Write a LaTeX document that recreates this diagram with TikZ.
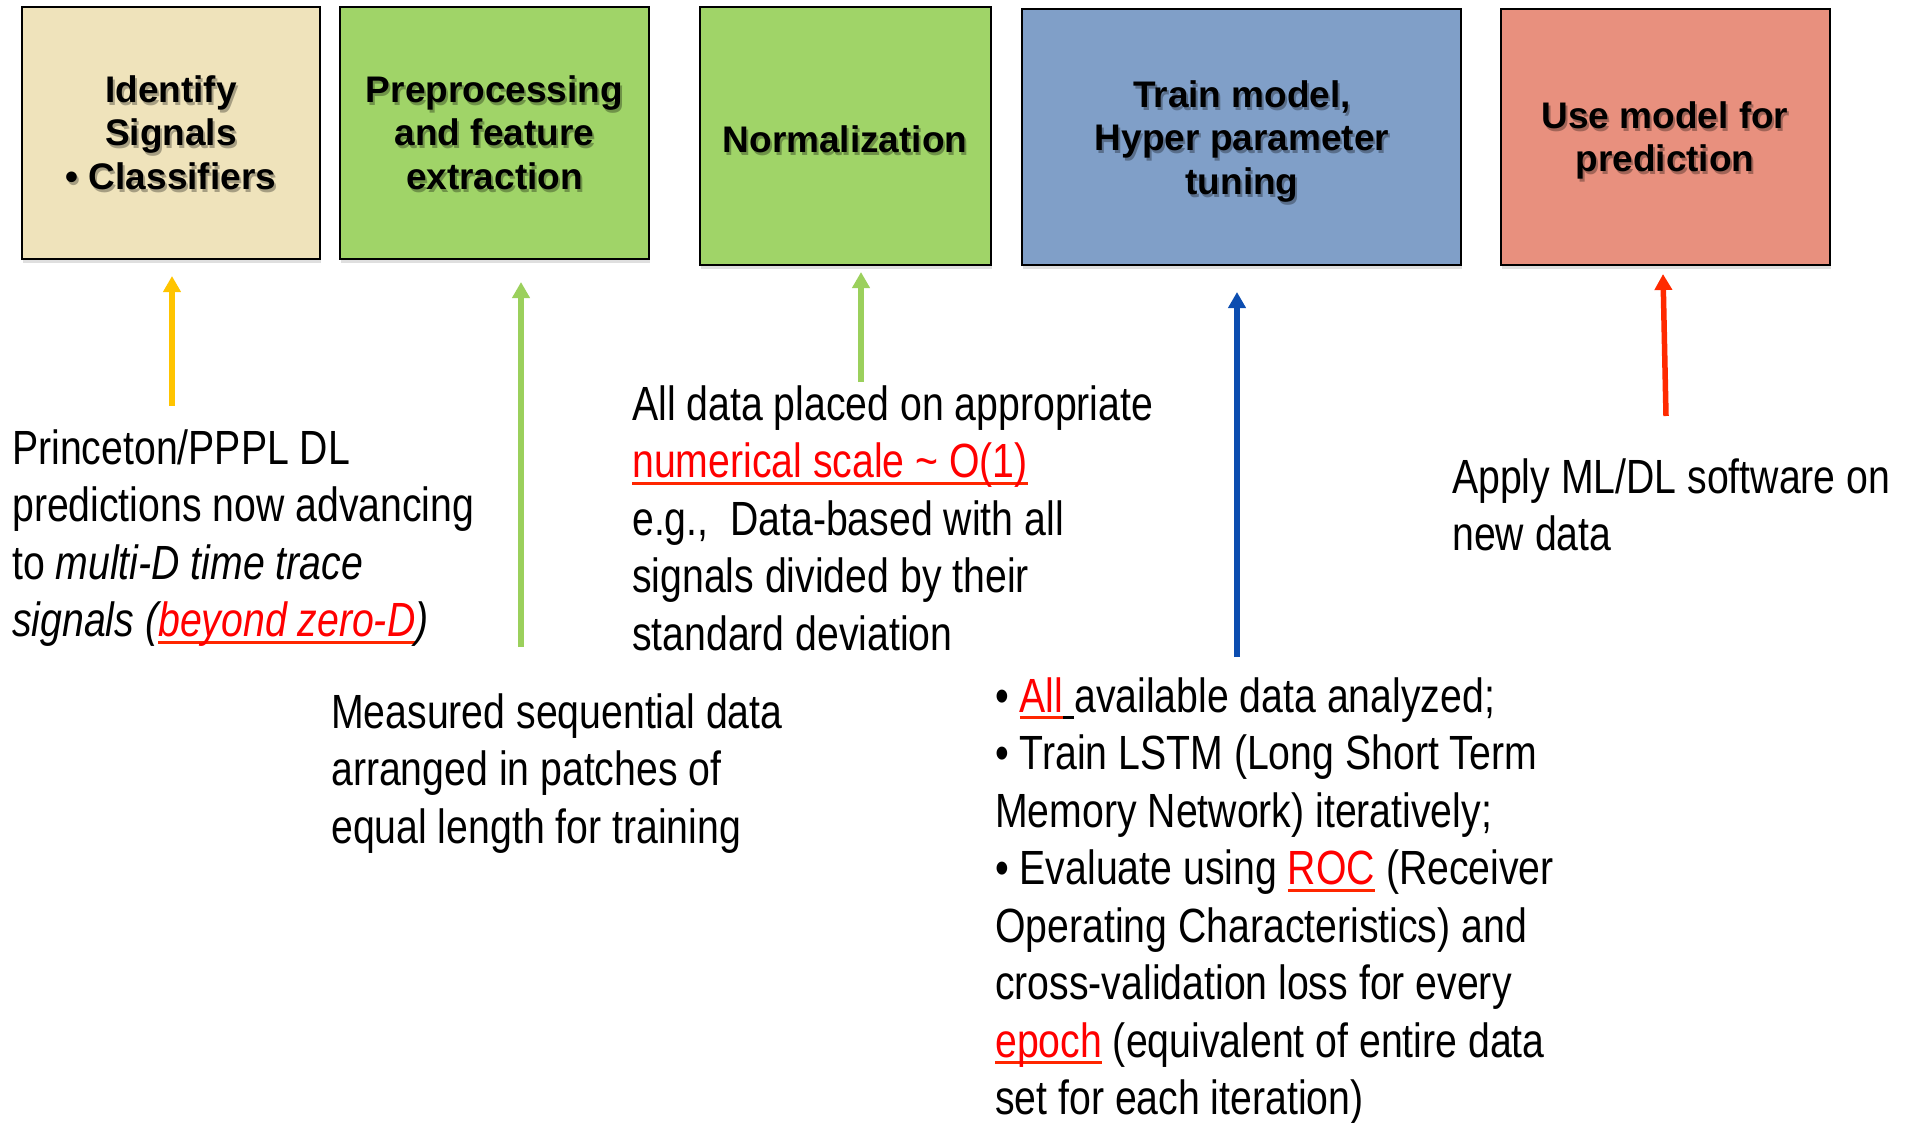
\documentclass[tikz,border=0pt]{standalone}
\usepackage{fontspec}
\setmainfont{Liberation Sans}[FakeStretch=0.817]
\newfontfamily\boxfont{Liberation Sans}
\usetikzlibrary{arrows.meta,shadows}
\definecolor{tanfill}{HTML}{EFE3BB}
\definecolor{greenfill}{HTML}{A0D468}
\definecolor{bluefill}{HTML}{809FC8}
\definecolor{salmonfill}{HTML}{E8907E}
\definecolor{yarr}{HTML}{FFC400}
\definecolor{garr}{HTML}{9BD05C}
\definecolor{barr}{HTML}{0C4DB0}
\definecolor{rarr}{HTML}{FF2A00}
\definecolor{ulred}{HTML}{FF2600}
\newcommand{\redul}[1]{\leavevmode\setbox0\hbox{#1}\rlap{\textcolor{ulred}{\rule[-7pt]{\wd0}{3pt}}}\textcolor{red}{#1}}
\newcommand{\ulspace}{\leavevmode\setbox0\hbox{\ }\rule[-7pt]{\wd0}{3pt}}
\tikzset{
  box/.style={draw=black, line width=2.5pt, inner sep=0pt,
    drop shadow={shadow xshift=1pt, shadow yshift=-4pt, opacity=0.25}},
  boxtext/.style={anchor=base, inner sep=0pt,
    font=\boxfont\bfseries\fontsize{37}{43.5}\selectfont},
  boxshade/.style={boxtext, text=black, opacity=0.3},
  body/.style={anchor=base west, inner sep=0pt,
    font=\fontsize{48}{57.5}\selectfont},
  arr/.style={line width=5.5pt, -{Triangle[length=16pt,width=17pt]}},
}
\newcommand{\cbox}[1]{\parbox[t]{440pt}{\centering #1}}
\newcommand{\lbox}[1]{\parbox[t]{640pt}{\raggedright #1}}
\begin{document}
\begin{tikzpicture}[x=1pt,y=-1pt]
\useasboundingbox (0,0) rectangle (1908,1122);

% boxes
\node[box, fill=tanfill,   minimum width=298pt, minimum height=252pt] (b1) at (171,133) {};
\node[box, fill=greenfill, minimum width=309pt, minimum height=252pt] (b2) at (494.5,133) {};
\node[box, fill=greenfill, minimum width=291pt, minimum height=258pt] (b3) at (845.5,136) {};
\node[box, fill=bluefill,  minimum width=439pt, minimum height=256pt] (b4) at (1241.5,137) {};
\node[box, fill=salmonfill,minimum width=329pt, minimum height=256pt] (b5) at (1665.5,137) {};

% box text shadows
\node[boxshade] (s1) at (173,105) {\cbox{Identify\\Signals\\• Classifiers}};
\node[boxshade] (s2) at (496.5,105) {\cbox{Preprocessing\\and feature\\extraction}};
\node[boxshade] (s3) at (847,155) {\cbox{Normalization}};
\node[boxshade] (s4) at (1244,110) {\cbox{Train model,\\Hyper parameter\\tuning}};
\node[boxshade] (s5) at (1667,131) {\cbox{Use model for\\prediction}};

% box text
\node[boxtext] (t1) at (171,102) {\cbox{Identify\\Signals\\• Classifiers}};
\node[boxtext] (t2) at (494.5,102) {\cbox{Preprocessing\\and feature\\extraction}};
\node[boxtext] (t3) at (845,152) {\cbox{Normalization}};
\node[boxtext] (t4) at (1242,107) {\cbox{Train model,\\Hyper parameter\\tuning}};
\node[boxtext] (t5) at (1665,128) {\cbox{Use model for\\prediction}};

% arrows
\coordinate (y0) at (172,406);  \coordinate (y1) at (172,276);
\coordinate (g0) at (521,647);  \coordinate (g1) at (521,282);
\coordinate (h0) at (861,382);  \coordinate (h1) at (861,272);
\coordinate (u0) at (1237,657); \coordinate (u1) at (1237,292);
\coordinate (r0) at (1666,416); \coordinate (r1) at (1663,274);
\draw[arr, yarr] (y0) -- (y1);
\draw[arr, garr] (g0) -- (g1);
\draw[arr, garr] (h0) -- (h1);
\draw[arr, barr] (u0) -- (u1);
\draw[arr, rarr] (r0) -- (r1);

% body texts
\node[body] (ta) at (12,464) {\lbox{Princeton/PPPL DL\\predictions now advancing\\to \textit{multi-D time trace}\\\textit{signals (\redul{beyond zero-D})}}};
\node[body] (tb) at (331,728) {\lbox{Measured sequential data\\arranged in patches of\\equal length for training}};
\node[body] (tc) at (632,420) {\lbox{All data placed on appropriate\\\redul{numerical scale \textasciitilde\ O(1)}\\e.g.,\ \ Data-based with all\\signals divided by their\\standard deviation}};
\node[body] (td) at (1452,493) {\lbox{Apply ML/DL software on\\new data}};
\node[body] (te) at (995,712) {\lbox{• \redul{All}\ulspace available data analyzed;\\• Train LSTM (Long Short Term\\Memory Network) iteratively;\\• Evaluate using \redul{ROC} (Receiver\\Operating Characteristics) and\\cross-validation loss for every\\\redul{epoch} (equivalent of entire data\\set for each iteration)}};
\end{tikzpicture}
\end{document}
